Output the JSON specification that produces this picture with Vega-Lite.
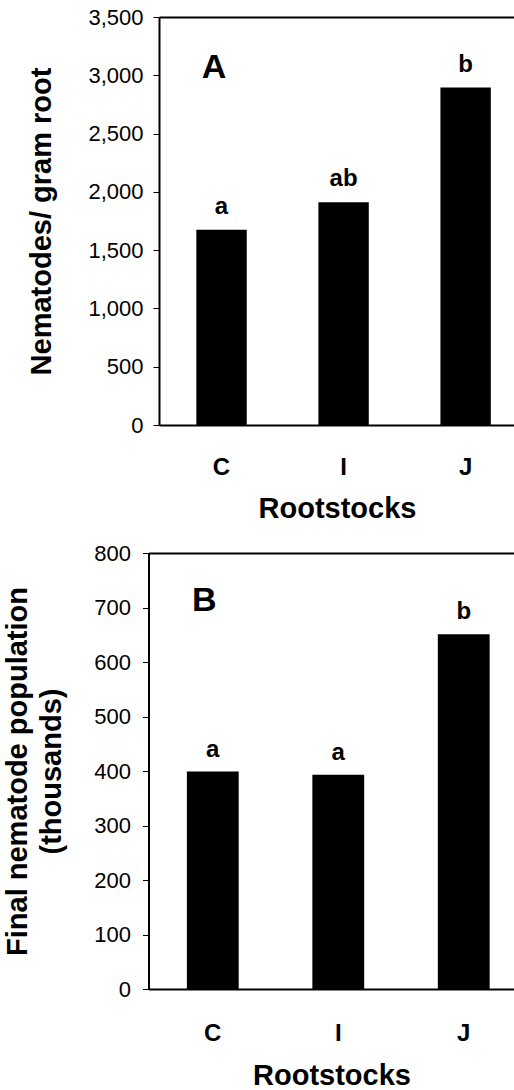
{
  "$schema": "https://vega.github.io/schema/vega-lite/v6.json",
  "padding": {"left": 0, "top": 6, "right": 0, "bottom": 0},
  "autosize": {"type": "pad"},
  "background": "white",
  "config": {
    "view": {"stroke": null},
    "font": "Liberation Sans",
    "axis": {"domainColor": "black", "tickColor": "black", "labelColor": "black", "titleColor": "black", "grid": false, "labelFont": "Liberation Sans", "titleFont": "Liberation Sans"}
  },
  "columns": 1,
  "concat": [
    {
      "width": 356,
      "height": 408,
      "data": {"values": [
        {"rootstock": "C", "value": 1675, "sig": "a"},
        {"rootstock": "I", "value": 1910, "sig": "ab"},
        {"rootstock": "J", "value": 2895, "sig": "b"}
      ]},
      "encoding": {
        "x": {"field": "rootstock", "type": "nominal",
          "scale": {"paddingInner": 0.587, "paddingOuter": 0.252, "align": 0.607},
          "axis": {"orient": "bottom", "ticks": false, "tickSize": 0, "domainWidth": 2, "labelAngle": 0, "labelFontSize": 24, "labelFontWeight": "bold", "labelPadding": 30, "title": "Rootstocks", "titleFontSize": 29, "titleFontWeight": "bold", "titlePadding": 15}},
        "y": {"field": "value", "type": "quantitative",
          "scale": {"domain": [0, 3500], "nice": false},
          "axis": {"values": [0, 500, 1000, 1500, 2000, 2500, 3000, 3500], "format": ",.0f", "labelFontSize": 22, "labelPadding": 10, "tickSize": 6, "tickWidth": 1, "domainWidth": 2, "title": ["", "Nematodes/ gram root"], "titleFontSize": 29, "titleFontWeight": "bold", "titlePadding": 31, "titleLineHeight": 27}}
      },
      "layer": [
        {"mark": {"type": "bar", "color": "black"}},
        {"mark": {"type": "text", "font": "Liberation Sans", "fontSize": 24, "fontWeight": "bold", "baseline": "alphabetic", "align": "center", "dy": -16, "color": "black"},
         "encoding": {
           "text": {"field": "sig"},
           "x": {"field": "rootstock", "type": "nominal",
             "scale": {"paddingInner": 0.587, "paddingOuter": 0.252, "align": 0.607},
             "axis": {"orient": "top", "labels": false, "ticks": false, "domain": true, "domainWidth": 2, "title": null}}
         }},
        {"data": {"values": [{"rootstock": "C", "value": 2977, "label": "A"}]},
         "mark": {"type": "text", "font": "Liberation Sans", "fontSize": 34, "fontWeight": "bold", "baseline": "alphabetic", "align": "center", "dx": -7.5, "color": "black"},
         "encoding": {
           "text": {"field": "label"},
           "x": {"field": "rootstock", "type": "nominal", "axis": null}
         }}
      ],
      "resolve": {"axis": {"x": "independent"}}
    },
    {
      "width": 356,
      "height": 436,
      "data": {"values": [
        {"rootstock": "C", "value": 399, "sig": "a"},
        {"rootstock": "I", "value": 393, "sig": "a"},
        {"rootstock": "J", "value": 651, "sig": "b"}
      ]},
      "encoding": {
        "x": {"field": "rootstock", "type": "nominal",
          "scale": {"range": [-10.5, 355.5], "paddingInner": 0.587, "paddingOuter": 0.252, "align": 0.607},
          "axis": {"orient": "bottom", "ticks": false, "tickSize": 0, "domainWidth": 2, "labelAngle": 0, "labelFontSize": 24, "labelFontWeight": "bold", "labelPadding": 32, "title": "Rootstocks", "titleFontSize": 29, "titleFontWeight": "bold", "titlePadding": 16}},
        "y": {"field": "value", "type": "quantitative",
          "scale": {"domain": [0, 800], "nice": false},
          "axis": {"values": [0, 100, 200, 300, 400, 500, 600, 700, 800], "format": "d", "offset": 10.5, "labelFontSize": 22, "labelPadding": 12, "tickSize": 6, "tickWidth": 1, "domainWidth": 2, "title": ["Final nematode population", "(thousands)"], "titleFontSize": 29, "titleFontWeight": "bold", "titlePadding": 27, "titleLineHeight": 34}}
      },
      "layer": [
        {"mark": {"type": "bar", "color": "black"}},
        {"mark": {"type": "text", "font": "Liberation Sans", "fontSize": 24, "fontWeight": "bold", "baseline": "alphabetic", "align": "center", "dy": -15, "color": "black"},
         "encoding": {
           "text": {"field": "sig"},
           "x": {"field": "rootstock", "type": "nominal",
             "scale": {"range": [-10.5, 355.5], "paddingInner": 0.587, "paddingOuter": 0.252, "align": 0.607},
             "axis": {"orient": "top", "labels": false, "ticks": false, "domain": true, "domainWidth": 2, "title": null}}
         }},
        {"data": {"values": [{"rootstock": "C", "value": 694, "label": "B"}]},
         "mark": {"type": "text", "font": "Liberation Sans", "fontSize": 34, "fontWeight": "bold", "baseline": "alphabetic", "align": "center", "dx": -8.5, "color": "black"},
         "encoding": {
           "text": {"field": "label"},
           "x": {"field": "rootstock", "type": "nominal", "axis": null}
         }}
      ],
      "resolve": {"axis": {"x": "independent"}}
    }
  ],
  "spacing": 19,
  "bounds": "full"
}
